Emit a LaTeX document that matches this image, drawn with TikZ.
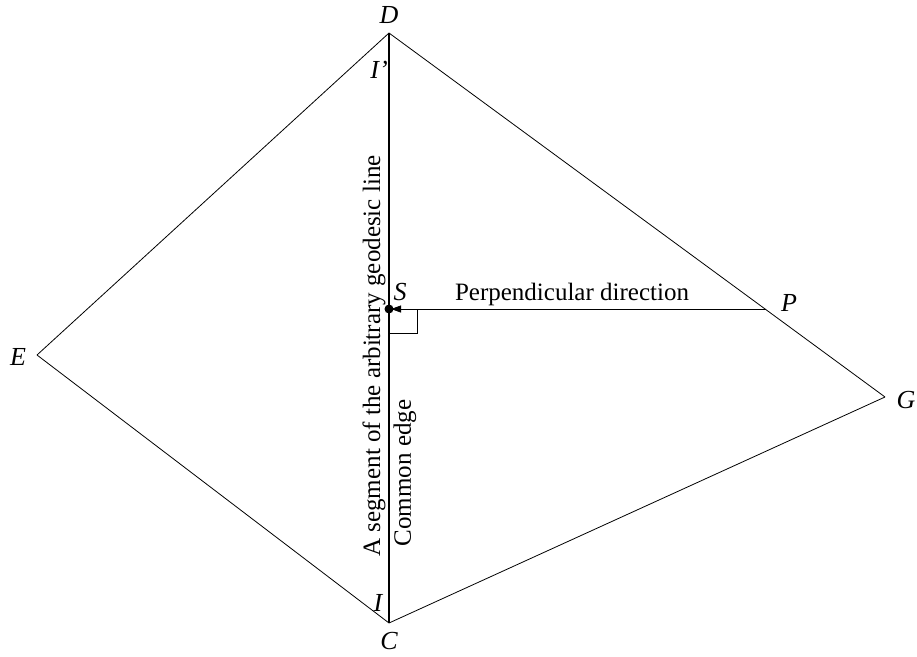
\documentclass[tikz,border=0pt]{standalone}
\usepackage{fontspec}
\setmainfont{Liberation Serif}
\usetikzlibrary{arrows.meta, positioning}

\begin{document}
\begin{tikzpicture}[x=1pt, y=-1pt,
		edge/.style={line width=0.8pt},
		geod/.style={line width=2.6pt},
		lbl/.style={font=\fontsize{26}{30}\selectfont\itshape, inner sep=0pt},
		txt/.style={font=\fontsize{25}{29}\selectfont, inner sep=0pt},
		arr/.style={-{Triangle[length=10pt, width=7pt]}, line width=0.8pt}
		]
		\useasboundingbox (0,0) rectangle (917,656);
		\coordinate (D) at (389,33);
		\coordinate (C) at (389,623);
		\coordinate (E) at (37,355);
		\coordinate (G) at (885,397);
		\coordinate (S) at (389,309);
		\coordinate (P) at (766,309);
		
		\foreach \s/\t in {D/E, E/C, C/G, G/D}
		\draw[edge] (\s) -- (\t);
		\draw[geod] (D) -- (C);
		\draw[arr, shorten >=2pt] (P) -- (S);
		\draw[edge] (389,333) -- (417,333) -- (417,309);
		\fill (S) circle (4.5pt);
		
		\node[lbl] (dl) at (389,15) {D};
		\node[lbl] (cl) at (389,641) {C};
		\node[lbl] (el) at (18,357) {E};
		\node[lbl] (gl) at (906,400) {G};
		\node[lbl] (sl) at (400,292) {S};
		\node[lbl] (pl) at (789,303) {P};
		\node[lbl] (il) at (379,70) {I'};
		\node[lbl] (i2l) at (378,603) {I};
		
		\node[txt] (perp) at (572,294) {Perpendicular direction};
		\node[txt, rotate=90] (seg) at (374,356) {A segment of the arbitrary geodesic line};
		\node[txt, rotate=90] (com) at (405,473) {Common edge};
	\end{tikzpicture}
\end{document}
